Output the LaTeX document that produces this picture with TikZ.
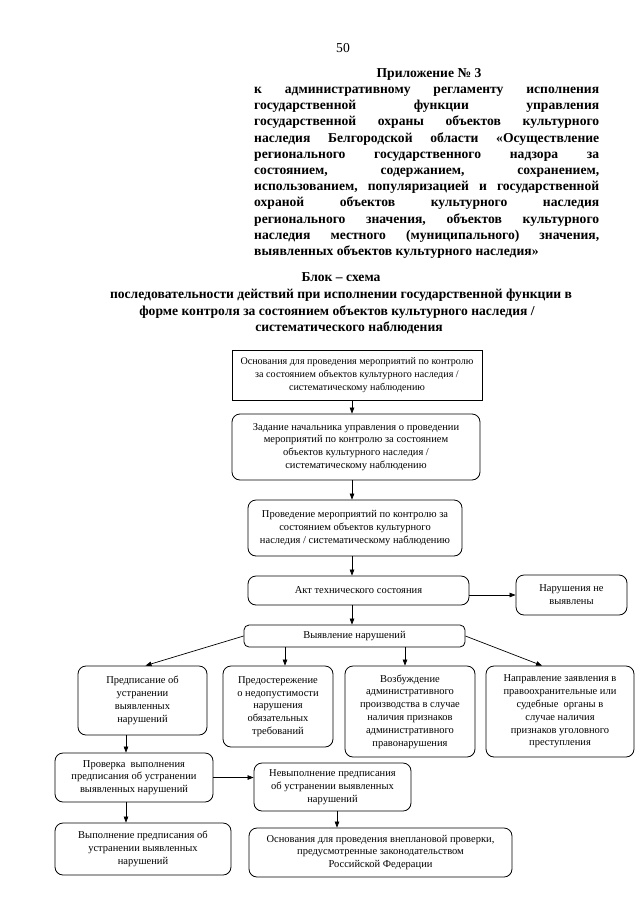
\documentclass[tikz,border=0pt]{standalone}
\usepackage{fontspec}
\setmainfont{Liberation Serif}
\usetikzlibrary{arrows.meta,calc}
\begin{document}
\begin{tikzpicture}[x=1pt,y=-1pt,
  box/.style={draw, line width=0.8pt, rounded corners=8pt, align=center, inner sep=0pt,
    font=\fontsize{10.5}{12.8}\selectfont},
  arr/.style={line width=0.7pt, -{Triangle[length=6pt,width=4.5pt]}},
  hd/.style={inner sep=0pt, anchor=base west, font=\fontsize{13.6}{16}\selectfont\bfseries},
  ttl/.style={inner sep=0pt, anchor=base, font=\fontsize{13.6}{16}\selectfont\bfseries}]
\fill[white] (0,0) rectangle (640,905);
\useasboundingbox (0,0) rectangle (640,905);

% page number and header
\node[inner sep=0pt, anchor=base, font=\fontsize{13.6}{16}\selectfont] (pn) at (343,52) {50};
\node[ttl] (app) at (429,77) {Приложение № 3};
\node[hd] (h1) at (254,93.5) {\hbox to 345pt{к\hfill административному\hfill регламенту\hfill исполнения}};
\node[hd] (h2) at (254,109.7) {\hbox to 345pt{государственной\hfill функции\hfill управления}};
\node[hd] (h3) at (254,125.9) {\hbox to 345pt{государственной\hfill охраны\hfill объектов\hfill культурного}};
\node[hd] (h4) at (254,142.1) {\hbox to 345pt{наследия\hfill Белгородской\hfill области\hfill «Осуществление}};
\node[hd] (h5) at (254,158.3) {\hbox to 345pt{регионального\hfill государственного\hfill надзора\hfill за}};
\node[hd] (h6) at (254,174.5) {\hbox to 345pt{состоянием,\hfill содержанием,\hfill сохранением,}};
\node[hd] (h7) at (254,190.7) {\hbox to 345pt{использованием,\hfill популяризацией\hfill и\hfill государственной}};
\node[hd] (h8) at (254,206.9) {\hbox to 345pt{охраной\hfill объектов\hfill культурного\hfill наследия}};
\node[hd] (h9) at (254,223.1) {\hbox to 345pt{регионального\hfill значения,\hfill объектов\hfill культурного}};
\node[hd] (h10) at (254,239.3) {\hbox to 345pt{наследия\hfill местного\hfill (муниципального)\hfill значения,}};
\node[hd] (h11) at (254,255.5) {выявленных объектов культурного наследия»};

% title
\node[ttl] (t1) at (341,281) {Блок – схема};
\node[ttl] (t2) at (341,298.5) {последовательности действий при исполнении государственной функции в};
\node[ttl] (t3) at (337,315) {форме контроля за состоянием объектов культурного наследия /};
\node[ttl] (t4) at (349,331.5) {систематического наблюдения};

% boxes
\node[box, rounded corners=0pt, line width=1pt, minimum width=250pt, minimum height=50pt,
  font=\fontsize{10.1}{12.8}\selectfont] (b1) at (357,375)
  {Основания для проведения мероприятий по контролю\\за состоянием объектов культурного наследия /\\систематическому наблюдению};
\node[box, minimum width=248pt, minimum height=66pt] (b2) at (356,447)
  {Задание начальника управления о проведении\\мероприятий по контролю за состоянием\\объектов культурного наследия /\\систематическому наблюдению};
\node[box, minimum width=214pt, minimum height=56pt] (b3) at (355,528)
  {Проведение мероприятий по контролю за\\состоянием объектов культурного\\наследия / систематическому наблюдению};
\node[box, minimum width=221pt, minimum height=29pt] (b4) at (358.5,590.5)
  {Акт технического состояния};
\node[box, minimum width=111pt, minimum height=40pt] (b5) at (571.5,595)
  {Нарушения не\\выявлены};
\node[box, rounded corners=5pt, minimum width=221pt, minimum height=22pt] (b6) at (354.5,636)
  {Выявление нарушений};
\node[box, minimum width=129pt, minimum height=69pt] (b7) at (142.5,700.5)
  {Предписание об\\устранении\\выявленных\\нарушений};
\node[box, minimum width=110pt, minimum height=81pt] (b8) at (278,706.5)
  {Предостережение\\о недопустимости\\нарушения\\обязательных\\требований};
\node[box, minimum width=130pt, minimum height=91pt] (b9) at (410,711.5)
  {Возбуждение\\административного\\производства в случае\\наличия признаков\\административного\\правонарушения};
\node[box, minimum width=148pt, minimum height=91pt] (b10) at (560,711.5)
  {Направление заявления в\\правоохранительные или\\судебные\ \ органы в\\случае наличия\\признаков уголовного\\преступления};
\node[box, minimum width=158pt, minimum height=49pt] (b11) at (134,777.5)
  {Проверка\ \ выполнения\\предписания об устранении\\выявленных нарушений};
\node[box, minimum width=157pt, minimum height=48pt] (b12) at (332.5,787)
  {Невыполнение предписания\\об устранении выявленных\\нарушений};
\node[box, minimum width=263pt, minimum height=49pt] (b13) at (380.5,852.5)
  {Основания для проведения внеплановой проверки,\\предусмотренные законодательством\\Российской Федерации};
\node[box, minimum width=176pt, minimum height=52pt] (b14) at (143,849)
  {Выполнение предписания об\\устранении выявленных\\нарушений};

% connectors
\coordinate (c1) at ([xshift=-5pt]b1.south);
\draw[arr] (c1) -- (c1 |- b2.north);
\coordinate (c2) at ([xshift=-4pt]b2.south);
\draw[arr] (c2) -- (c2 |- b3.north);
\coordinate (c3) at ([xshift=-3pt]b3.south);
\draw[arr] (c3) -- (c3 |- b4.north);
\draw[arr] (b5.west -| b4.east) -- (b5.west);
\coordinate (c4) at ([xshift=-2.5pt]b6.north);
\draw[arr] (c4 |- b4.south) -- (c4);
\draw[arr] (b6.west) -- ([xshift=3pt]b7.north);
\coordinate (c8) at ([xshift=7pt]b8.north);
\draw[arr] (c8 |- b6.south) -- (c8);
\coordinate (c9) at ([xshift=-5pt]b9.north);
\draw[arr] (c9 |- b6.south) -- (c9);
\draw[arr] (b6.east) -- ([xshift=-18pt]b10.north);
\coordinate (c7) at ([xshift=-16.5pt]b7.south);
\draw[arr] (c7) -- (c7 |- b11.north);
\draw[arr] (b11.east) -- (b11.east -| b12.west);
\coordinate (c11) at ([xshift=-8pt]b11.south);
\draw[arr] (c11) -- (c11 |- b14.north);
\coordinate (c12) at ([xshift=4.5pt]b12.south);
\draw[arr] (c12) -- (c12 |- b13.north);
\end{tikzpicture}
\end{document}
